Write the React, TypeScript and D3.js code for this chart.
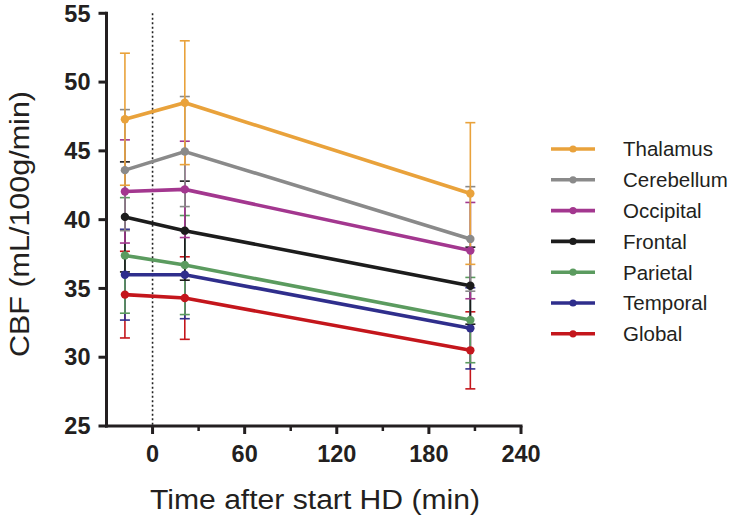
import React from "react";
import * as d3 from "d3";

const seriesNames = ["Thalamus", "Cerebellum", "Occipital", "Frontal", "Parietal", "Temporal", "Global"];
const seriesColors = ["#E9A23B", "#8A8A8A", "#A3378F", "#1C1C1C", "#5B9B5F", "#2F2E8C", "#C4161C"];
const timePoints = [-18, 21, 207];
const thalamus = [47.3, 48.5, 41.9];
const thalamusErr = [4.8, 4.5, 5.15];
const cerebellum = [43.6, 44.95, 38.6];
const cerebellumErr = [4.4, 4.0, 3.8];
const occipital = [42.05, 42.2, 37.75];
const occipitalErr = [3.75, 3.5, 3.5];
const frontal = [40.2, 39.2, 35.2];
const frontalErr = [4.0, 3.6, 2.8];
const parietal = [37.4, 36.7, 32.7];
const parietalErr = [4.2, 3.6, 3.1];
const temporal = [36.0, 36.0, 32.1];
const temporalErr = [3.3, 3.2, 2.95];
const globalCbf = [34.55, 34.3, 30.5];
const globalErr = [3.15, 3.0, 2.8];
const yTicks = [25, 30, 35, 40, 45, 50, 55];
const xTicks = [0, 60, 120, 180, 240];
const xMinorTicks = [30, 90, 150, 210];

const values = [thalamus, cerebellum, occipital, frontal, parietal, temporal, globalCbf];
const errors = [thalamusErr, cerebellumErr, occipitalErr, frontalErr, parietalErr, temporalErr, globalErr];

export default function App() {
  const W = 733, H = 523;
  const left = 106.5, right = 521, top = 13.3, bottom = 426;
  const x = d3.scaleLinear().domain([-30, 240]).range([left, right]);
  const y = d3.scaleLinear().domain([25, 55]).range([bottom, top]);
  const line = d3.line<[number, number]>().x(d => x(d[0])).y(d => y(d[1]));
  const font = "'Liberation Sans', Arial, sans-serif";
  const axisColor = "#231F20";
  const order = [6, 5, 4, 3, 2, 1, 0];
  return (
    <svg width={W} height={H} style={{ position: "absolute", left: 0, top: 0, background: "#fff" }}>
      {/* dotted zero line */}
      <line x1={x(0)} x2={x(0)} y1={top} y2={bottom} stroke="#222" strokeWidth={1.6} strokeDasharray="2,2.5" />
      {/* error bars */}
      {order.map(i => (
        <g key={"e" + i} stroke={seriesColors[i]} strokeWidth={1.6}>
          {timePoints.map((t, j) => {
            const v = values[i][j], e = errors[i][j];
            const cx = x(t);
            return (
              <g key={j}>
                <line x1={cx} x2={cx} y1={y(v - e)} y2={y(v + e)} />
                <line x1={cx - 5} x2={cx + 5} y1={y(v + e)} y2={y(v + e)} />
                <line x1={cx - 5} x2={cx + 5} y1={y(v - e)} y2={y(v - e)} />
              </g>
            );
          })}
        </g>
      ))}
      {/* lines */}
      {order.map(i => (
        <g key={"l" + i}>
          <path d={line(timePoints.map((t, j) => [t, values[i][j]]) as [number, number][]) || ""} fill="none" stroke={seriesColors[i]} strokeWidth={3.6} />
          {timePoints.map((t, j) => (
            <circle key={j} cx={x(t)} cy={y(values[i][j])} r={4.2} fill={seriesColors[i]} />
          ))}
        </g>
      ))}
      {/* axes */}
      <line x1={left} x2={left} y1={top - 1.5} y2={bottom + 1.5} stroke={axisColor} strokeWidth={3} />
      <line x1={left - 1.5} x2={right + 1.5} y1={bottom} y2={bottom} stroke={axisColor} strokeWidth={3} />
      {yTicks.map(t => (
        <g key={"y" + t}>
          <line x1={left - 8} x2={left} y1={y(t)} y2={y(t)} stroke={axisColor} strokeWidth={3} />
          <text x={left - 16} y={y(t)} dy="0.35em" textAnchor="end" fontFamily={font} fontWeight="bold" fontSize={23.5} fill="#231F20">{t}</text>
        </g>
      ))}
      {xTicks.map(t => (
        <g key={"x" + t}>
          <line x1={x(t)} x2={x(t)} y1={bottom} y2={bottom + 8} stroke={axisColor} strokeWidth={3} />
          <text x={x(t)} y={bottom + 35.5} textAnchor="middle" fontFamily={font} fontWeight="bold" fontSize={23.5} fill="#231F20">{t}</text>
        </g>
      ))}
      {xMinorTicks.map(t => (
        <line key={"m" + t} x1={x(t)} x2={x(t)} y1={bottom} y2={bottom + 5} stroke={axisColor} strokeWidth={2.5} />
      ))}
      <text x={315} y={509} textAnchor="middle" fontFamily={font} fontSize={27} textLength={330} lengthAdjust="spacingAndGlyphs" fill="#231F20">Time after start HD (min)</text>
      <text transform={`translate(29,224) rotate(-90)`} textAnchor="middle" fontFamily={font} fontSize={27} textLength={266} lengthAdjust="spacingAndGlyphs" fill="#231F20">CBF (mL/100g/min)</text>
      {/* legend */}
      {seriesNames.map((name, i) => {
        const ly = 149 + i * 30.8;
        return (
          <g key={"lg" + i}>
            <line x1={551} x2={595} y1={ly} y2={ly} stroke={seriesColors[i]} strokeWidth={3.6} />
            <circle cx={573} cy={ly} r={3.6} fill={seriesColors[i]} />
            <text x={623} y={ly} dy="0.36em" fontFamily={font} fontSize={20.5} fill="#231F20">{name}</text>
          </g>
        );
      })}
    </svg>
  );
}
